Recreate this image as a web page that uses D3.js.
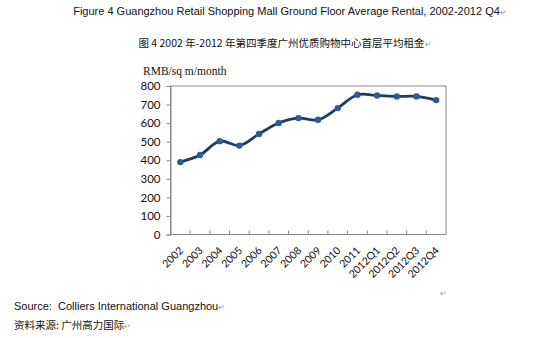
<!DOCTYPE html>
<html><head><meta charset="utf-8">
<script src="https://cdn.jsdelivr.net/npm/d3@7"></script>
<style>body{margin:0;background:#fff;}svg{display:block;}text{white-space:pre;}</style>
</head><body>
<script>
const categories = ["2002","2003","2004","2005","2006","2007","2008","2009","2010","2011","2012Q1","2012Q2","2012Q3","2012Q4"];
const rentValues = [390,428,503,479,542,601,627,618,681,753,749,744,744,724];
const yTicks = [0,100,200,300,400,500,600,700,800];

const W=550,H=338;
const svg=d3.select("body").append("svg").attr("width",W).attr("height",H);
const m={left:170.5,right:446,top:86,bottom:234.5};

svg.append("text").attr("x",290).attr("y",15).attr("text-anchor","middle")
  .attr("font-family","Liberation Sans, Arial").attr("font-size",11).attr("fill","#111")
  .text("Figure 4 Guangzhou Retail Shopping Mall Ground Floor Average Rental, 2002-2012 Q4")
  .append("tspan").attr("fill","#999").attr("font-size",8).text("↵");
svg.append("text").attr("x",285).attr("y",47).attr("text-anchor","middle")
  .attr("font-family","Noto Sans CJK SC, sans-serif").attr("font-size",10.5).attr("fill","#111")
  .text("图 4 2002 年-2012 年第四季度广州优质购物中心首层平均租金")
  .append("tspan").attr("fill","#999").attr("font-size",8).text("↵");

const x=d3.scaleBand().domain(categories).range([m.left,m.right]);
const y=d3.scaleLinear().domain([0,800]).range([m.bottom,m.top]);

svg.append("rect").attr("x",m.left).attr("y",m.top).attr("width",m.right-m.left).attr("height",m.bottom-m.top)
  .attr("fill","none").attr("stroke","#8a8a8a").attr("stroke-width",1);

const ya=svg.append("g").attr("transform",`translate(${m.left},0)`)
  .call(d3.axisLeft(y).tickValues(yTicks).tickSize(4).tickPadding(6));
ya.select(".domain").attr("stroke","#8a8a8a");
ya.selectAll(".tick line").attr("stroke","#8a8a8a");
ya.selectAll(".tick text").attr("font-family","Lato, Open Sans, sans-serif").attr("font-size",11.5).attr("fill","#111");

const bounds=categories.slice(1).map(c=>x(c));
svg.append("g").selectAll("line").data(bounds).join("line")
  .attr("x1",d=>d).attr("x2",d=>d).attr("y1",m.bottom-4).attr("y2",m.bottom)
  .attr("stroke","#8a8a8a");
svg.append("g").selectAll("text").data(categories).join("text")
  .attr("transform",d=>`translate(${x(d)+x.bandwidth()/2+1},${m.bottom+14}) rotate(-45)`)
  .attr("text-anchor","end").attr("dy","0.35em")
  .attr("font-family","Lato, Open Sans, sans-serif").attr("font-size",10.5).attr("fill","#111")
  .text(d=>d);

svg.append("text").attr("x",143).attr("y",75)
  .attr("font-family","Liberation Serif, Times New Roman, serif").attr("font-size",11.5).attr("fill","#111")
  .text("RMB/sq m/month");

const pts=categories.map((c,i)=>[x(c)+x.bandwidth()/2,y(rentValues[i])]);
svg.append("path").attr("d",d3.line().curve(d3.curveCatmullRom.alpha(0.5))(pts))
  .attr("fill","none").attr("stroke","#1f3a66").attr("stroke-width",2.8);
svg.append("g").selectAll("circle").data(pts).join("circle")
  .attr("cx",d=>d[0]).attr("cy",d=>d[1]).attr("r",3.2).attr("fill","#2f5b94");

svg.append("text").attr("x",14).attr("y",310)
  .attr("font-family","Liberation Sans, Arial").attr("font-size",11).attr("fill","#111")
  .text("Source:  Colliers International Guangzhou")
  .append("tspan").attr("fill","#999").attr("font-size",8).text("↵");
svg.append("text").attr("x",14).attr("y",329)
  .attr("font-family","Noto Sans CJK SC, sans-serif").attr("font-size",10.5).attr("fill","#111")
  .text("资料来源: 广州高力国际")
  .append("tspan").attr("fill","#999").attr("font-size",8).text("↵");
svg.append("text").attr("x",440).attr("y",296).attr("fill","#999").attr("font-size",8).text("↵");
</script>
</body></html>
